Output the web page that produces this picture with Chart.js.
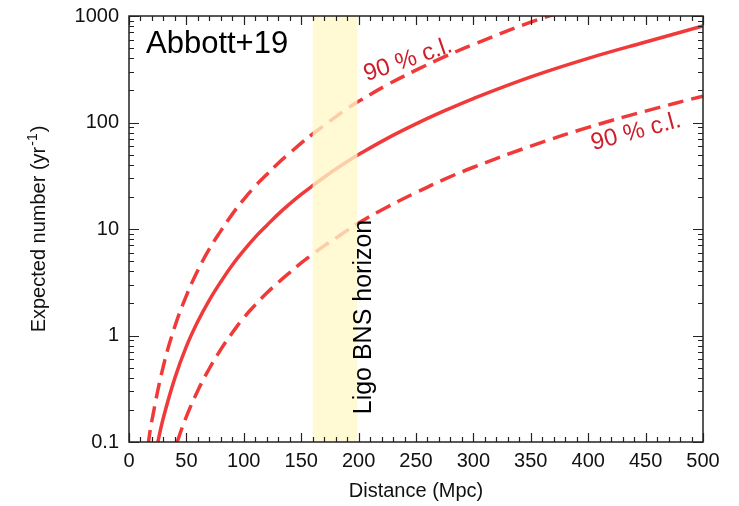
<!DOCTYPE html>
<html lang="en">
<head>
  <meta charset="UTF-8" />
  <title>Expected number vs distance</title>
  <script src="https://cdn.jsdelivr.net/npm/chart.js"></script>
  <style>
    html, body { margin: 0; padding: 0; background: #fff; }
  </style>
</head>
<body>
  <canvas id="rateChart" width="739" height="506"></canvas>
  <script>
    // values (distance in Mpc, expected number per yr)
    const distMedian = [20, 25, 30, 40, 50, 60, 70, 80, 90, 100, 110, 120, 130, 140, 150, 160, 170, 180, 190, 200, 225, 250, 275, 300, 350, 400, 450, 500];
    const rateMedian = [0.05, 0.098, 0.17, 0.40, 0.79, 1.36, 2.15, 3.2, 4.6, 6.3, 8.4, 10.8, 13.8, 17.2, 21.1, 25.5, 30.6, 36.5, 42.9, 50, 71, 97, 129, 168, 268, 400, 570, 805];

    const distUpper = [14, 17, 20, 30, 40, 50, 60, 70, 80, 90, 100, 110, 120, 130, 140, 150, 160, 170, 180, 190, 200, 225, 250, 275, 300, 350, 400];
    const rateUpper = [0.055, 0.1, 0.16, 0.52, 1.22, 2.37, 4.1, 6.5, 9.6, 13.8, 19, 25.3, 32.5, 41.5, 51.5, 64, 78, 94, 113, 135, 158, 226, 310, 415, 540, 875, 1300];

    const distLower = [36, 42, 50, 60, 70, 80, 90, 100, 110, 120, 130, 140, 150, 160, 170, 180, 190, 200, 225, 250, 275, 300, 350, 400, 450, 500];
    const rateLower = [0.06, 0.1, 0.173, 0.305, 0.49, 0.74, 1.06, 1.47, 1.94, 2.5, 3.15, 3.9, 4.8, 5.8, 6.95, 8.2, 9.7, 11.4, 16.1, 22, 29.4, 38, 60, 90, 128, 177];

    const yTicks = [0.1, 1, 10, 100, 1000];
    const horizonBand = [160, 199];

    const lineRed = 'rgb(240, 58, 58)';
    const labelRed = 'rgb(205, 30, 42)';
    const fontName = '"Liberation Sans", Arial, sans-serif';

    function toPoints(xs, ys) {
      return xs.map((d, i) => ({ x: d, y: ys[i] }));
    }

    // band, annotations, frame and inward ticks
    const overlay = {
      id: 'overlay',
      afterDatasetsDraw(chart) {
        const { ctx, chartArea: a, scales: { x, y } } = chart;
        ctx.save();

        // Ligo horizon band, drawn over the curves
        const bx0 = x.getPixelForValue(horizonBand[0]);
        const bx1 = x.getPixelForValue(horizonBand[1]);
        ctx.fillStyle = 'rgba(255, 247, 200, 0.78)';
        ctx.fillRect(bx0, a.top, bx1 - bx0, a.bottom - a.top);

        ctx.fillStyle = '#000';
        ctx.font = '31px ' + fontName;
        ctx.textAlign = 'left';
        ctx.textBaseline = 'alphabetic';
        ctx.fillText('Abbott+19', 146, 53);

        ctx.save();
        ctx.translate(371, 317);
        ctx.rotate(-Math.PI / 2);
        ctx.font = '25px ' + fontName;
        ctx.textAlign = 'center';
        ctx.fillText('Ligo BNS horizon', 0, 0);
        ctx.restore();

        // c.l. labels
        ctx.fillStyle = labelRed;
        ctx.font = '24px ' + fontName;
        ctx.textAlign = 'center';
        ctx.textBaseline = 'middle';
        [[408, 60, -19], [636, 132, -15]].forEach(([px, py, ang]) => {
          ctx.save();
          ctx.translate(px, py);
          ctx.rotate(ang * Math.PI / 180);
          ctx.fillText('90 % c.l.', 0, 0);
          ctx.restore();
        });

        // y axis title with superscript
        ctx.save();
        ctx.translate(45, (a.top + a.bottom) / 2);
        ctx.rotate(-Math.PI / 2);
        ctx.fillStyle = '#111';
        ctx.textBaseline = 'alphabetic';
        ctx.textAlign = 'left';
        const mainFont = '20px ' + fontName, supFont = '14px ' + fontName;
        ctx.font = mainFont;
        const t1 = 'Expected number (yr', t3 = ')';
        const w1 = ctx.measureText(t1).width, w3 = ctx.measureText(t3).width;
        ctx.font = supFont;
        const w2 = ctx.measureText('-1').width + 2;
        let cx = -(w1 + w2 + w3) / 2;
        ctx.font = mainFont;
        ctx.fillText(t1, cx, 0);
        ctx.font = supFont;
        ctx.fillText('-1', cx + w1 + 1, -8);
        ctx.font = mainFont;
        ctx.fillText(t3, cx + w1 + w2, 0);
        ctx.restore();

        // inward tick marks on all four sides
        ctx.strokeStyle = '#222';
        ctx.lineWidth = 1.2;
        ctx.beginPath();
        for (let d = 0; d <= 500; d += 10) {
          const px = Math.round(x.getPixelForValue(d)) + 0.5;
          const len = d % 50 === 0 ? 9 : 5;
          ctx.moveTo(px, a.bottom); ctx.lineTo(px, a.bottom - len);
          ctx.moveTo(px, a.top); ctx.lineTo(px, a.top + len);
        }
        for (let k = 0; k < yTicks.length; k++) {
          for (let m = 1; m <= 9; m++) {
            const v = yTicks[k] * m;
            if (v > 1000) break;
            const py = Math.round(y.getPixelForValue(v)) + 0.5;
            const len = m === 1 ? 10 : 5;
            ctx.moveTo(a.left, py); ctx.lineTo(a.left + len, py);
            ctx.moveTo(a.right, py); ctx.lineTo(a.right - len, py);
          }
        }
        ctx.stroke();

        ctx.strokeStyle = '#222';
        ctx.lineWidth = 1.5;
        ctx.strokeRect(a.left, a.top, a.right - a.left, a.bottom - a.top);
        ctx.restore();
      }
    };

    const curve = { borderColor: lineRed, borderWidth: 3.5, pointRadius: 0, tension: 0.4, fill: false };

    new Chart(document.getElementById('rateChart'), {
      type: 'line',
      data: {
        datasets: [
          { ...curve, label: 'median', data: toPoints(distMedian, rateMedian) },
          { ...curve, label: 'upper 90% c.l.', data: toPoints(distUpper, rateUpper), borderDash: [16, 8] },
          { ...curve, label: 'lower 90% c.l.', data: toPoints(distLower, rateLower), borderDash: [16, 8] }
        ]
      },
      options: {
        responsive: false,
        animation: false,
        devicePixelRatio: 1,
        layout: { padding: { left: 0, right: 36, top: 16, bottom: 0 } },
        plugins: { legend: { display: false }, tooltip: { enabled: false } },
        scales: {
          x: {
            type: 'linear',
            min: 0,
            max: 500,
            grid: { display: false, drawTicks: false },
            border: { display: false },
            ticks: { stepSize: 50, maxRotation: 0, padding: 7, color: '#111', font: { family: fontName, size: 20 } },
            title: { display: true, text: 'Distance (Mpc)', color: '#111', font: { family: fontName, size: 20 }, padding: { top: 0, bottom: 3 } },
            afterFit(s) { s.height = 64; s.paddingLeft = 0; s.paddingRight = 0; }
          },
          y: {
            type: 'logarithmic',
            min: 0.1,
            max: 1000,
            grid: { display: false, drawTicks: false },
            border: { display: false },
            afterBuildTicks(s) { s.ticks = yTicks.map(v => ({ value: v })); },
            ticks: { padding: 10, color: '#111', font: { family: fontName, size: 20 }, callback: v => String(v) },
            afterFit(s) { s.width = 129; s.paddingTop = 0; s.paddingBottom = 0; }
          }
        }
      },
      plugins: [overlay]
    });
  </script>
</body>
</html>
